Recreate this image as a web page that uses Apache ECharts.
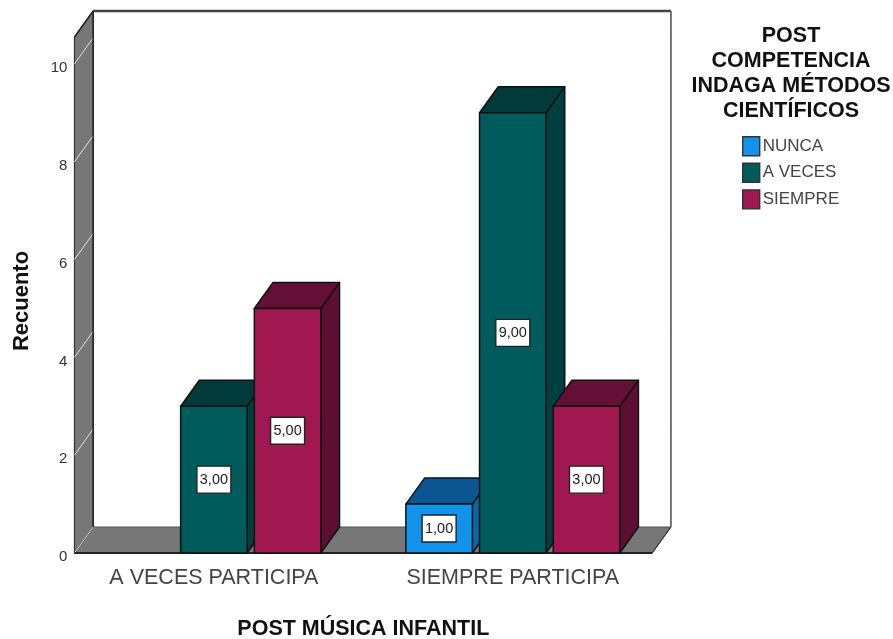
<!DOCTYPE html>
<html><head><meta charset="utf-8">
<style>html,body{margin:0;padding:0;background:#fff}#c{width:893px;height:639px}</style>
<script src="https://cdn.jsdelivr.net/npm/echarts@6/dist/echarts.min.js"></script>
</head><body><div id="c"></div>
<script>
const categories = ['A VECES PARTICIPA', 'SIEMPRE PARTICIPA'];
const nunca = [null, 1];
const aVeces = [3, 9];
const siempre = [5, 3];
const yTicks = [0, 2, 4, 6, 8, 10];
const legendTitle = 'POST\nCOMPETENCIA\nINDAGA MÉTODOS\nCIENTÍFICOS';
const FONT = '"Liberation Sans", Arial, sans-serif';
const DX = 18.7, DY = -26;
const BAR_W = 0.2225, STEP = 0.2465, WALL_HALF = 0.4665, Y_MAX = 10.55;

function wallItem(params, api) {
  const band = api.size([1, 0])[0];
  const c0 = api.coord([0, 0]), c1 = api.coord([1, 0]), top = api.coord([0, Y_MAX]);
  const xl = c0[0] - band * WALL_HALF, xr = c1[0] + band * WALL_HALF, yb = c0[1], yt = top[1];
  const children = [];
  const gray = '#777777', dark = '#222222';
  children.push({type:'polygon',shape:{points:[[xl+DX,yt+DY],[xr+DX,yt+DY],[xr+DX,yb+DY],[xl+DX,yb+DY]]},style:{fill:'#fff',stroke:'none'}});
  children.push({type:'polygon',shape:{points:[[xl,yb],[xr,yb],[xr+DX,yb+DY],[xl+DX,yb+DY]]},style:{fill:gray,stroke:'#555',lineWidth:1}});
  children.push({type:'polygon',shape:{points:[[xl,yt],[xl+DX,yt+DY],[xl+DX,yb+DY],[xl,yb]]},style:{fill:gray,stroke:'#333',lineWidth:1.2}});
  yTicks.forEach(t => {
    const y = api.coord([0, t])[1];
    children.push({type:'line',shape:{x1:xl,y1:y,x2:xl+DX,y2:y+DY},style:{stroke:'#e2e2e2',lineWidth:1}});
    children.push({type:'line',shape:{x1:xr+DX-1,y1:y+DY,x2:xr+DX+1,y2:y+DY},style:{stroke:'#e8e8e8',lineWidth:1}});
  });
  children.push({type:'line',shape:{x1:xl+DX,y1:yt+DY,x2:xr+DX,y2:yt+DY},style:{stroke:'#444',lineWidth:2.4}});
  children.push({type:'line',shape:{x1:xr+DX,y1:yt+DY,x2:xr+DX,y2:yb+DY},style:{stroke:'#555',lineWidth:1.6}});
  children.push({type:'line',shape:{x1:xl+DX,y1:yt+DY,x2:xl+DX,y2:yb+DY},style:{stroke:dark,lineWidth:1.4}});
  children.push({type:'line',shape:{x1:xl,y1:yt,x2:xl+DX,y2:yt+DY},style:{stroke:dark,lineWidth:1.4}});
  children.push({type:'line',shape:{x1:xr,y1:yb,x2:xr+DX,y2:yb+DY},style:{stroke:dark,lineWidth:1}});
  children.push({type:'line',shape:{x1:xl,y1:yb,x2:xr,y2:yb},style:{stroke:dark,lineWidth:2}});
  return {type:'group',children};
}

function barRenderer(slot, front, side, topc) {
  return function (params, api) {
    const v = api.value(1);
    if (v == null || isNaN(v)) return null;
    const band = api.size([1, 0])[0];
    const base = api.coord([api.value(0), 0]), tp = api.coord([api.value(0), v]);
    const cx = base[0] + slot * STEP * band, w = BAR_W * band;
    const l = cx - w / 2, r = cx + w / 2, yb = base[1], yt = tp[1];
    const ln = {stroke:'#111',lineWidth:1.5,lineJoin:'round'};
    return {type:'group',children:[
      {type:'polygon',shape:{points:[[r,yb],[r+DX,yb+DY],[r+DX,yt+DY],[r,yt]]},style:Object.assign({fill:side},ln)},
      {type:'polygon',shape:{points:[[l,yt],[r,yt],[r+DX,yt+DY],[l+DX,yt+DY]]},style:Object.assign({fill:topc},ln)},
      {type:'rect',shape:{x:l,y:yt,width:w,height:yb-yt},style:Object.assign({fill:front},ln)},
      {type:'rect',shape:{x:cx-17,y:(yb+yt)/2-13.5,width:34,height:27},style:{fill:'#fff',stroke:'#222',lineWidth:1.4}},
      {type:'text',style:{x:cx,y:(yb+yt)/2,text:v.toFixed(2).replace('.',','),fill:'#222',font:'14.5px '+FONT,align:'center',verticalAlign:'middle'}}
    ]};
  };
}
const toPairs = arr => arr.map((v,i)=>[i, v]);
const mk = (name, arr, slot, f, s, t) => ({
  name, type:'custom', coordinateSystem:'cartesian2d', data:toPairs(arr), encode:{x:0,y:1},
  itemStyle:{color:f}, renderItem:barRenderer(slot,f,s,t), silent:true
});

const chart = echarts.init(document.getElementById('c'), null, {renderer:'canvas'});
chart.setOption({
  animation:false,
  backgroundColor:'#fff',
  textStyle:{fontFamily:FONT},
  title:{text:legendTitle,left:786,top:19,textAlign:'center',
    textStyle:{fontFamily:FONT,fontSize:21.5,fontWeight:'bold',color:'#111',lineHeight:25}},
  legend:{left:737,top:131,orient:'vertical',itemWidth:17,itemHeight:19,itemGap:6.2,icon:'rect',
    data:['NUNCA','A VECES','SIEMPRE'],selectedMode:false,
    itemStyle:{borderColor:'#333',borderWidth:1.4},
    textStyle:{fontFamily:FONT,fontSize:17,color:'#444',padding:[0,0,0,-2]}},
  grid:{left:64.45,width:597.8,top:37,height:516,containLabel:false,outerBoundsMode:'none'},
  xAxis:{type:'category',data:categories,
    axisLine:{show:false},axisTick:{show:false},
    axisLabel:{fontSize:21.5,color:'#444',margin:14,fontFamily:FONT},
    name:'POST MÚSICA INFANTIL',nameLocation:'middle',nameGap:65,
    nameTextStyle:{fontSize:21.5,fontWeight:'bold',color:'#111',fontFamily:FONT}},
  yAxis:{type:'value',min:0,max:Y_MAX,
    axisLine:{show:false},axisTick:{show:false},splitLine:{show:false},
    axisLabel:{customValues:yTicks,fontSize:15,color:'#333',margin:-3,verticalAlign:'top',lineHeight:8,fontFamily:FONT},
    name:'Recuento',nameLocation:'middle',nameGap:32,nameRotate:90,
    nameTextStyle:{fontSize:22,fontWeight:'bold',color:'#111',fontFamily:FONT,padding:[0,12,0,0]}},
  series:[
    {name:'walls',type:'custom',coordinateSystem:'cartesian2d',data:[[0,0]],encode:{x:0,y:1},renderItem:wallItem,silent:true,z:1},
    mk('NUNCA',nunca,-1,'#1193EB','#0B66A6','#0B5692'),
    mk('A VECES',aVeces,0,'#005C5C','#003F3F','#003A3A'),
    mk('SIEMPRE',siempre,1,'#A0184F','#5C0F31','#640F35')
  ]
});
</script></body></html>
